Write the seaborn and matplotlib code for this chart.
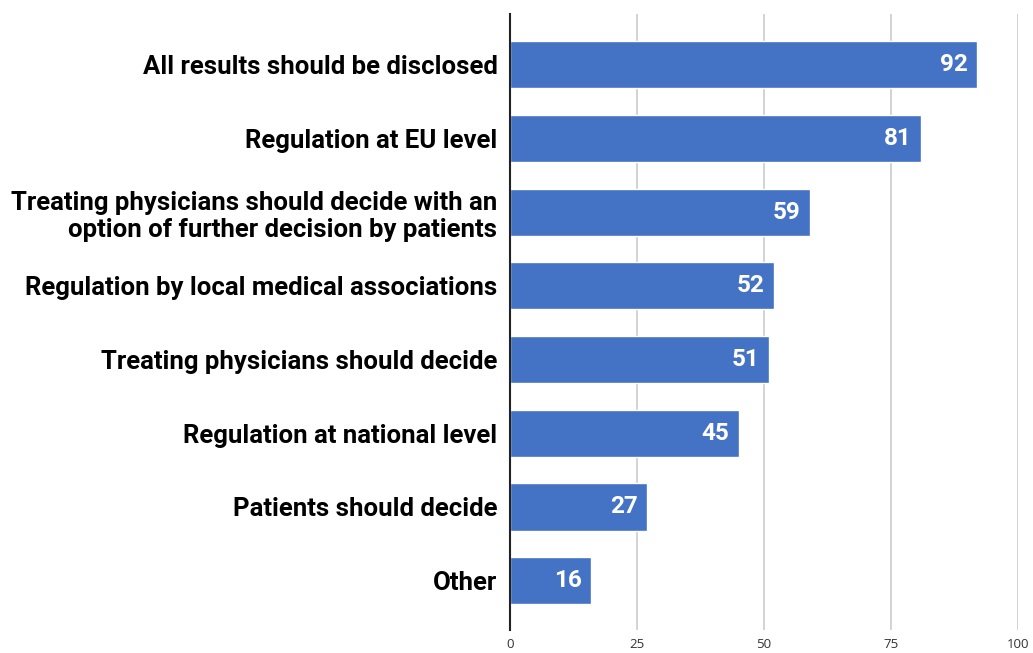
import matplotlib
matplotlib.use("Agg")
import matplotlib.pyplot as plt
import seaborn as sns
import pandas as pd

categories = [
    "All results should be disclosed",
    "Regulation at EU level",
    "Treating physicians should decide with an\noption of further decision by patients",
    "Regulation by local medical associations",
    "Treating physicians should decide",
    "Regulation at national level",
    "Patients should decide",
    "Other",
]
values = [92, 81, 59, 52, 51, 45, 27, 16]
xticks = [0, 25, 50, 75, 100]

sns.set_theme(style="white")
plt.rcParams['font.family'] = ['Roboto', 'DejaVu Sans']

df = pd.DataFrame({"category": categories, "value": values})

fig = plt.figure(figsize=(10.33, 6.53), dpi=100)
ax = fig.add_axes([0.4937, 0.0352, 0.9855 - 0.4937, 0.9786 - 0.0352])

sns.barplot(data=df, x="value", y="category", orient="h", color="#4472C4",
            saturation=1, width=0.64, ax=ax, zorder=3)

ax.set_xlim(0, 100)
ax.set_ylim(7.67, -0.69)
ax.set_xticks(xticks)
ax.set_xticklabels([str(t) for t in xticks], fontsize=9.5, family=['Open Sans', 'DejaVu Sans'], color='#333333')
ax.xaxis.grid(True, color="#cccccc", linewidth=1.2, zorder=0)
ax.set_axisbelow(True)
ax.tick_params(axis='x', length=0, pad=6)
ax.tick_params(axis='y', length=0, pad=9)
for lbl in ax.get_yticklabels():
    lbl.set_fontsize(18.5)
    lbl.set_fontweight('bold')
    lbl.set_color('black')
    lbl.set_multialignment('right')
    lbl.set_linespacing(1.15)
ax.set_xlabel("")
ax.set_ylabel("")
for s in ["top", "right", "bottom"]:
    ax.spines[s].set_visible(False)
ax.spines["left"].set_color("#222222")
ax.spines["left"].set_linewidth(1.5)
ax.spines["left"].set_zorder(5)

for i, v in enumerate(values):
    ax.text(v - 1.9, i, str(v), ha='right', va='center', color='white',
            fontsize=17.5, fontweight='bold', zorder=6)

fig.savefig("out.png", dpi=100)
